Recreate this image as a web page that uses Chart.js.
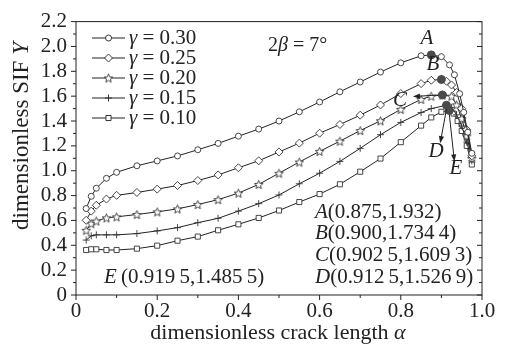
<!DOCTYPE html>
<html>
<head>
<meta charset="utf-8">
<script src="https://cdn.jsdelivr.net/npm/chart.js@4"></script>
<style>
  html, body { margin: 0; padding: 0; background: #fff; }
</style>
</head>
<body>
<canvas id="sifChart" width="508" height="346"></canvas>
<script>
  // crack length alpha and dimensionless SIF Y for each gamma
  const alpha30 = [0.025, 0.0375, 0.05, 0.075, 0.1, 0.15, 0.2, 0.25, 0.3, 0.35, 0.4, 0.45, 0.5, 0.55, 0.6, 0.65, 0.7, 0.75, 0.8, 0.85, 0.875, 0.9, 0.92, 0.932, 0.945, 0.955, 0.965, 0.975];
  const sif30 = [0.696, 0.794, 0.859, 0.939, 0.987, 1.040, 1.079, 1.119, 1.169, 1.220, 1.278, 1.335, 1.400, 1.474, 1.553, 1.635, 1.714, 1.794, 1.868, 1.925, 1.932, 1.918, 1.852, 1.772, 1.62, 1.47, 1.31, 1.14];

  const alpha25 = [0.025, 0.0375, 0.05, 0.075, 0.1, 0.15, 0.2, 0.25, 0.3, 0.35, 0.4, 0.45, 0.5, 0.55, 0.6, 0.65, 0.7, 0.75, 0.8, 0.85, 0.875, 0.9, 0.9125, 0.925, 0.9375, 0.95, 0.9625, 0.975];
  const sif25 = [0.601, 0.675, 0.722, 0.772, 0.802, 0.825, 0.852, 0.881, 0.921, 0.966, 1.024, 1.080, 1.151, 1.222, 1.302, 1.372, 1.447, 1.529, 1.621, 1.701, 1.728, 1.7344, 1.72, 1.69, 1.63, 1.50, 1.33, 1.12];

  const alpha20 = [0.025, 0.0375, 0.05, 0.075, 0.1, 0.15, 0.2, 0.25, 0.3, 0.35, 0.4, 0.45, 0.5, 0.55, 0.6, 0.65, 0.7, 0.75, 0.8, 0.85, 0.875, 0.9025, 0.925, 0.9375, 0.95, 0.9625, 0.975];
  const sif20 = [0.521, 0.574, 0.595, 0.621, 0.629, 0.648, 0.669, 0.693, 0.728, 0.767, 0.820, 0.890, 0.980, 1.070, 1.156, 1.238, 1.323, 1.402, 1.494, 1.574, 1.600, 1.6093, 1.60, 1.53, 1.42, 1.28, 1.10];

  const alpha15 = [0.025, 0.0375, 0.05, 0.075, 0.1, 0.15, 0.2, 0.25, 0.3, 0.35, 0.4, 0.45, 0.5, 0.55, 0.6, 0.65, 0.7, 0.75, 0.8, 0.85, 0.875, 0.9125, 0.925, 0.9375, 0.95, 0.9625, 0.975];
  const sif15 = [0.442, 0.476, 0.484, 0.484, 0.484, 0.494, 0.516, 0.542, 0.582, 0.617, 0.675, 0.735, 0.805, 0.895, 0.980, 1.075, 1.180, 1.290, 1.389, 1.468, 1.500, 1.5269, 1.51, 1.45, 1.36, 1.23, 1.08];

  const alpha10 = [0.025, 0.0375, 0.05, 0.075, 0.1, 0.15, 0.2, 0.25, 0.3, 0.35, 0.4, 0.45, 0.5, 0.55, 0.6, 0.65, 0.7, 0.75, 0.8, 0.85, 0.875, 0.9, 0.9195, 0.93, 0.94, 0.95, 0.9625, 0.975];
  const sif10 = [0.362, 0.368, 0.368, 0.362, 0.362, 0.373, 0.397, 0.437, 0.470, 0.521, 0.569, 0.620, 0.680, 0.748, 0.812, 0.891, 0.992, 1.098, 1.230, 1.363, 1.429, 1.474, 1.4855, 1.46, 1.40, 1.32, 1.20, 1.05];

  // peak points A..E
  const peakNames = ["A", "B", "C", "D", "E"];
  const peakAlpha = [0.875, 0.900, 0.9025, 0.9125, 0.9195];
  const peakSif = [1.932, 1.7344, 1.6093, 1.5269, 1.4855];
  const peakText = ["(0.875,1.932)", "(0.900,1.734\u20094)", "(0.902\u20095,1.609\u20093)", "(0.912\u20095,1.526\u20099)", "\u2009(0.919\u20095,1.485\u20095)"];

  const gammaLabels = ["0.30", "0.25", "0.20", "0.15", "0.10"];

  const FONT = "'Liberation Serif', 'Times New Roman', serif";
  const INK = "#222";

  // five point outlined star used as marker
  function makeStar(size) {
    const c = document.createElement("canvas");
    c.width = c.height = size;
    const g = c.getContext("2d");
    const cx = size / 2, cy = size / 2 + 0.5, R = size / 2 - 1, r = R * 0.45;
    g.beginPath();
    for (let k = 0; k < 10; k++) {
      const a = -Math.PI / 2 + k * Math.PI / 5;
      const rr = k % 2 ? r : R;
      g.lineTo(cx + rr * Math.cos(a), cy + rr * Math.sin(a));
    }
    g.closePath();
    g.fillStyle = "#fff";
    g.fill();
    g.strokeStyle = "#333";
    g.lineWidth = 0.9;
    g.stroke();
    return c;
  }
  const starImg = makeStar(11);

  const markers = [
    { pointStyle: "circle", radius: 3 },
    { pointStyle: "rectRot", radius: 4 },
    { pointStyle: starImg, radius: 5 },
    { pointStyle: "cross", radius: 3.5 },
    { pointStyle: "rect", radius: 3.6 },
  ];

  const xs = [alpha30, alpha25, alpha20, alpha15, alpha10];
  const ys = [sif30, sif25, sif20, sif15, sif10];

  function toPoints(a, b) {
    return a.map((v, i) => ({ x: v, y: b[i] }));
  }

  const datasets = [{
    label: "peaks",
    data: toPoints(peakAlpha, peakSif),
    showLine: false,
    pointStyle: "circle",
    pointRadius: 4,
    pointBackgroundColor: "#4a4a4a",
    pointBorderColor: "#4a4a4a",
    pointBorderWidth: 1,
  }];
  gammaLabels.forEach((g, i) => {
    datasets.push({
      label: "gamma " + g,
      data: toPoints(xs[i], ys[i]),
      showLine: true,
      borderColor: INK,
      borderWidth: 1,
      pointStyle: markers[i].pointStyle,
      pointRadius: markers[i].radius,
      pointBackgroundColor: "#fff",
      pointBorderColor: "#333",
      pointBorderWidth: 0.9,
      tension: 0,
    });
  });

  // italic letter followed by upright text
  function mixedText(ctx, x, y, parts, size) {
    let cx = x;
    parts.forEach(([txt, italic]) => {
      ctx.font = (italic ? "italic " : "") + size + "px " + FONT;
      ctx.fillText(txt, cx, y);
      cx += ctx.measureText(txt).width;
    });
    return cx - x;
  }
  function mixedWidth(ctx, parts, size) {
    let w = 0;
    parts.forEach(([txt, italic]) => {
      ctx.font = (italic ? "italic " : "") + size + "px " + FONT;
      w += ctx.measureText(txt).width;
    });
    return w;
  }

  function arrow(ctx, x1, y1, x2, y2) {
    const ang = Math.atan2(y2 - y1, x2 - x1);
    const hl = 7, hw = 2.6;
    ctx.beginPath();
    ctx.moveTo(x1, y1);
    ctx.lineTo(x2 - Math.cos(ang) * hl * 0.8, y2 - Math.sin(ang) * hl * 0.8);
    ctx.stroke();
    ctx.beginPath();
    ctx.moveTo(x2, y2);
    ctx.lineTo(x2 - Math.cos(ang) * hl + Math.sin(ang) * hw, y2 - Math.sin(ang) * hl - Math.cos(ang) * hw);
    ctx.lineTo(x2 - Math.cos(ang) * hl - Math.sin(ang) * hw, y2 - Math.sin(ang) * hl + Math.cos(ang) * hw);
    ctx.closePath();
    ctx.fill();
  }

  // frame, tick marks and axis titles
  const frame = {
    id: "frame",
    beforeDatasetsDraw(chart) {
      const { ctx, chartArea: ca, scales } = chart;
      ctx.save();
      ctx.strokeStyle = INK;
      ctx.lineWidth = 1;
      ctx.strokeRect(ca.left, ca.top, ca.right - ca.left, ca.bottom - ca.top);
      ctx.beginPath();
      for (let i = 0; i <= 10; i++) {
        const px = scales.x.getPixelForValue(i / 10);
        const len = i % 2 ? 3 : 5;
        ctx.moveTo(px, ca.bottom);
        ctx.lineTo(px, ca.bottom + len);
      }
      for (let i = 0; i <= 22; i++) {
        const py = scales.y.getPixelForValue(i / 10);
        const len = i % 2 ? 3 : 5;
        ctx.moveTo(ca.left, py);
        ctx.lineTo(ca.left - len, py);
        ctx.moveTo(ca.right, py);
        ctx.lineTo(ca.right - len, py);
      }
      ctx.stroke();

      ctx.fillStyle = INK;
      ctx.textBaseline = "middle";
      const xt = [["dimensionless crack length ", false], ["\u03b1", true]];
      const xw = mixedWidth(ctx, xt, 22);
      mixedText(ctx, 278 - xw / 2, 333, xt, 22);

      ctx.save();
      ctx.translate(22, 136);
      ctx.rotate(-Math.PI / 2);
      const yt = [["dimensionless SIF ", false], ["Y", true]];
      const yw = mixedWidth(ctx, yt, 23);
      mixedText(ctx, -yw / 2, 0, yt, 23);
      ctx.restore();
      ctx.restore();
    },
    afterDatasetsDraw(chart) {
      const { ctx, scales } = chart;
      const X = v => scales.x.getPixelForValue(v);
      const Y = v => scales.y.getPixelForValue(v);
      ctx.save();
      ctx.fillStyle = INK;
      ctx.strokeStyle = INK;
      ctx.lineWidth = 1;
      ctx.textBaseline = "middle";

      // legend
      gammaLabels.forEach((g, i) => {
        const y = 38 + i * 20;
        ctx.beginPath();
        ctx.moveTo(92, y);
        ctx.lineTo(125, y);
        ctx.stroke();
        ctx.fillStyle = "#fff";
        ctx.strokeStyle = "#333";
        Chart.helpers.drawPoint(ctx, { pointStyle: markers[i].pointStyle, radius: markers[i].radius, rotation: 0, borderWidth: 0.9 }, 108.5, y);
        ctx.fillStyle = INK;
        ctx.strokeStyle = INK;
        mixedText(ctx, 129, y, [["\u03b3", true], [" = " + g, false]], 21);
      });

      mixedText(ctx, 268, 46, [["2", false], ["\u03b2", true], [" = 7\u00b0", false]], 20);

      // peak letters and arrows
      ctx.font = "italic 21px " + FONT;
      ctx.textAlign = "center";
      ctx.fillText("A", 427, 38);
      ctx.fillText("B", 433, 64);
      ctx.fillText("C", 400, 100);
      ctx.fillText("D", 436, 151);
      ctx.fillText("E", 456, 168);
      ctx.textAlign = "left";
      arrow(ctx, X(peakAlpha[2]) - 4, Y(peakSif[2]), X(0.83), Y(1.597));
      arrow(ctx, X(peakAlpha[3]), Y(peakSif[3]) + 4, X(0.897), Y(1.222));
      arrow(ctx, X(peakAlpha[4]), Y(peakSif[4]) + 4, X(0.932), Y(1.075));

      // coordinates of the peaks
      [0, 1, 2, 3].forEach(i => {
        mixedText(ctx, 315, 212 + i * 21.7, [[peakNames[i], true], [peakText[i], false]], 21);
      });
      mixedText(ctx, 104, 277, [[peakNames[4], true], [peakText[4], false]], 21);
      ctx.restore();
    }
  };

  const tickOpts = {
    stepSize: 0.2,
    autoSkip: false,
    maxRotation: 0,
    color: INK,
    font: { family: FONT, size: 21 },
    callback: v => (Math.abs(v) < 1e-9 ? "0" : v.toFixed(1)),
  };

  new Chart(document.getElementById("sifChart"), {
    type: "scatter",
    data: { datasets },
    options: {
      responsive: false,
      animation: false,
      layout: { padding: { top: 18, right: 26, left: 0, bottom: 0 } },
      plugins: { legend: { display: false }, tooltip: { enabled: false } },
      scales: {
        x: {
          type: "linear",
          min: 0,
          max: 1,
          border: { display: false },
          grid: { display: false, drawTicks: false, tickLength: 0 },
          ticks: Object.assign({}, tickOpts, { padding: 4 }),
          afterFit: s => { s.height = 51; },
        },
        y: {
          type: "linear",
          min: 0,
          max: 2.2,
          border: { display: false },
          grid: { display: false, drawTicks: false, tickLength: 0 },
          ticks: Object.assign({}, tickOpts, { padding: 9 }),
          afterFit: s => { s.width = 76; },
        },
      },
    },
    plugins: [frame],
  });
</script>
</body>
</html>
